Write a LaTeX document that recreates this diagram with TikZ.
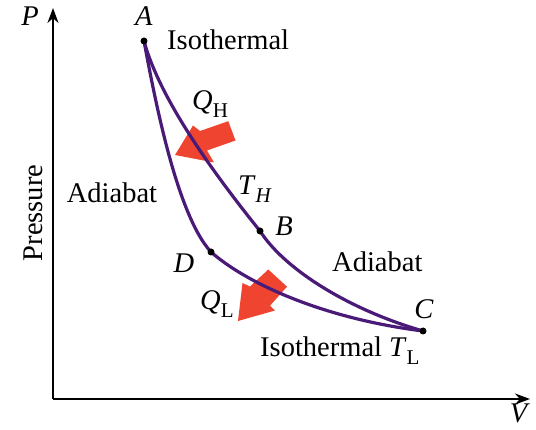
\documentclass[tikz,border=0pt]{standalone}
\usepackage{fontspec}
\setmainfont{Liberation Serif}
\usetikzlibrary{arrows.meta}
\definecolor{curvepurple}{RGB}{74,26,120}
\definecolor{heatred}{RGB}{238,68,48}
\newcommand{\sbH}[1]{\raisebox{-0.28em}{\fontsize{21}{21}\selectfont #1}}
\tikzset{
  lbl/.style={anchor=base, inner sep=0pt, font=\fontsize{28.5}{30}\selectfont},
  curve/.style={draw=curvepurple, line width=3.2pt},
  axis/.style={draw=black, line width=2pt, -{Stealth[length=15pt,width=11pt]}},
  dot/.style={circle, fill=black, inner sep=0pt, minimum size=7pt},
  heat/.style={fill=heatred, draw=none}
}
\begin{document}
\begin{tikzpicture}[x=1pt,y=-1pt]
\useasboundingbox (0,0) rectangle (536,430);
% axes
\coordinate (O) at (53,399);
\coordinate (Ptip) at (53,8);
\coordinate (Vtip) at (530,399);
\draw[axis] (O) -- (Ptip);
\draw[axis] (O) -- (Vtip);
\node[lbl] (Plbl) at (30,26) {\textit{P}};
\node[lbl] (Vlbl) at (520,423) {\textit{V}};
\node[lbl, rotate=90, anchor=base] (pres) at (42,213) {Pressure};
% heat arrows
\fill[heat] (175,155) -- (193,125.5) -- (200,131) -- (228.3,121.2) -- (235.5,140.5) -- (207,150.5) -- (214,162.5) -- cycle;
\fill[heat] (238,321) -- (242.5,283) -- (250,286.5) -- (268.3,269.5) -- (287,286.7) -- (270,305.7) -- (275,310.5) -- cycle;
% points
\coordinate (A) at (144,41);
\coordinate (B) at (260,231);
\coordinate (C) at (423,331);
\coordinate (D) at (211,252);
% curves
\draw[curve] (A) .. controls (160,100) and (215,175) .. (B);
\draw[curve] (B) .. controls (285,270) and (350,310) .. (C);
\draw[curve] (A) .. controls (155,100) and (177,215) .. (D);
\draw[curve] (D) .. controls (245,282) and (320,318) .. (C);
\node[dot] (Ad) at (A) {};
\node[dot] (Bd) at (B) {};
\node[dot] (Cd) at (C) {};
\node[dot] (Dd) at (D) {};
% labels
\node[lbl] (Albl) at (144,26) {\textit{A}};
\node[lbl] (Blbl) at (284,236) {\textit{B}};
\node[lbl] (Clbl) at (424,319) {\textit{C}};
\node[lbl] (Dlbl) at (184,273) {\textit{D}};
\node[lbl, anchor=base west] (iso1) at (167,50) {Isothermal};
\node[lbl, anchor=base west] (QH) at (192,110) {\textit{Q}\sbH{H}};
\node[lbl, anchor=base west] (TH) at (238,195) {\textit{T}\sbH{\textit{H}}};
\node[lbl] (ad1) at (112,203) {Adiabat};
\node[lbl, anchor=base west] (ad2) at (332,272) {Adiabat};
\node[lbl, anchor=base west] (QL) at (200,310) {\textit{Q}\sbH{L}};
\node[lbl, anchor=base west] (iso2) at (260,357) {Isothermal \textit{T}\sbH{L}};
\end{tikzpicture}
\end{document}
